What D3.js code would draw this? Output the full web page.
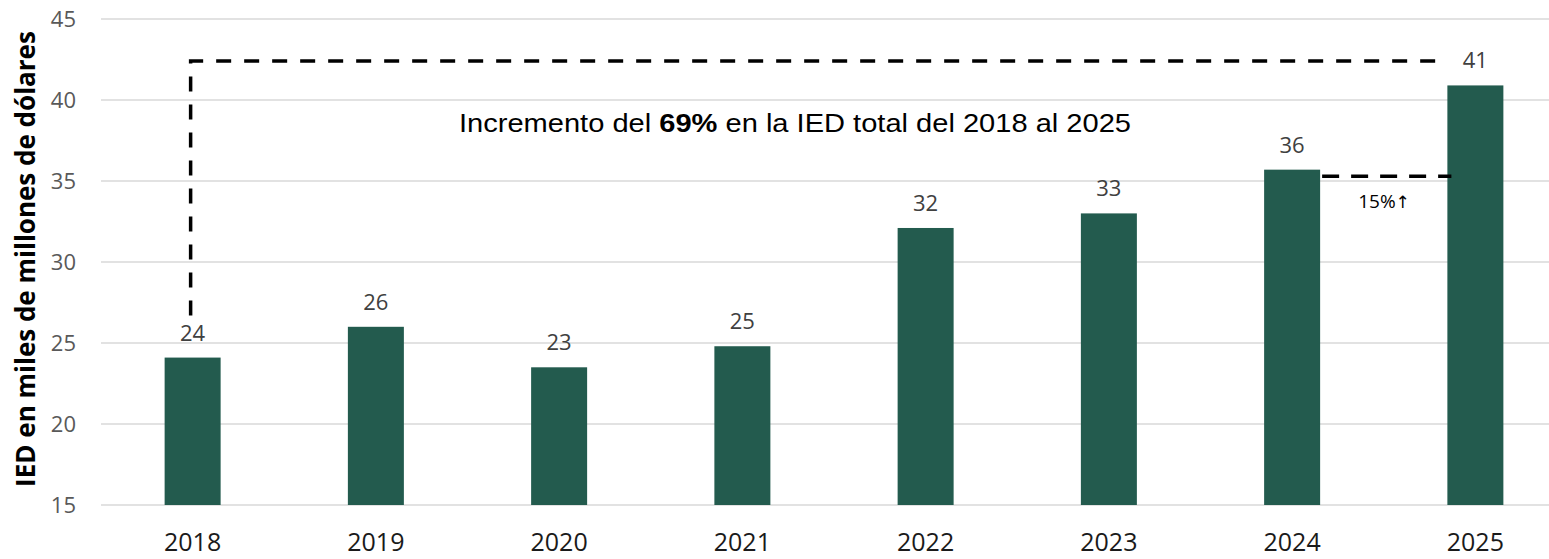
<!DOCTYPE html>
<html>
<head>
<meta charset="utf-8">
<script src="https://cdn.jsdelivr.net/npm/d3@7"></script>
<style>
  body { margin: 0; background: #fff; }
  svg { display: block; }
</style>
</head>
<body>
<div id="chart"></div>
<script>
// Data
const years = ["2018", "2019", "2020", "2021", "2022", "2023", "2024", "2025"];
const values = [24.1, 26.0, 23.5, 24.8, 32.1, 33.0, 35.7, 40.9];
const labels = ["24", "26", "23", "25", "32", "33", "36", "41"];
const yTicks = [15, 20, 25, 30, 35, 40, 45];

const width = 1549, height = 559;

const svg = d3.select("#chart").append("svg")
    .attr("width", width)
    .attr("height", height);

// Scales
const x = d3.scaleBand().domain(years).range([101, 1567]).padding(0);
const y = d3.scaleLinear().domain([15, 45]).range([505, 19]);
const barW = 56;
const cx = d => x(d) + x.bandwidth() / 2;

// Gridlines
svg.append("g")
    .selectAll("line")
    .data(yTicks)
    .join("line")
    .attr("x1", 101)
    .attr("x2", 1567)
    .attr("y1", d => y(d))
    .attr("y2", d => y(d))
    .attr("stroke", "#d9d9d9")
    .attr("stroke-width", 1.5);

// Y axis tick labels
const yAxis = svg.append("g")
    .attr("transform", "translate(76,0)")
    .call(d3.axisLeft(y).tickValues(yTicks).tickSize(0).tickPadding(0));
yAxis.select(".domain").remove();
yAxis.selectAll("text")
    .attr("font-family", "Open Sans")
    .attr("font-size", 22)
    .attr("fill", "#595959");

// X axis labels
const xAxis = svg.append("g")
    .attr("transform", "translate(0,533)")
    .call(d3.axisBottom(x).tickSize(0).tickPadding(0));
xAxis.select(".domain").remove();
xAxis.selectAll("text")
    .attr("dy", "0.71em")
    .attr("font-family", "Open Sans")
    .attr("font-size", 25)
    .attr("fill", "#1a1a1a");

// Bars
svg.append("g")
    .selectAll("rect")
    .data(years)
    .join("rect")
    .attr("x", d => cx(d) - barW / 2)
    .attr("width", barW)
    .attr("y", (d, i) => y(values[i]))
    .attr("height", (d, i) => y(15) - y(values[i]))
    .attr("fill", "#235B4E");

// Data labels
svg.append("g")
    .selectAll("text")
    .data(years)
    .join("text")
    .attr("x", d => cx(d))
    .attr("y", (d, i) => y(values[i]) - 17)
    .attr("text-anchor", "middle")
    .attr("font-family", "Open Sans")
    .attr("font-size", 22)
    .attr("fill", "#404040")
    .text((d, i) => labels[i]);

// Big dashed bracket from 2018 to 2025
const topY = y(42.4);
svg.append("path")
    .attr("d", `M${cx("2018") - 2},${y(values[0]) - 42} L${cx("2018") - 2},${topY} L${cx("2025") - 35},${topY}`)
    .attr("fill", "none")
    .attr("stroke", "#000")
    .attr("stroke-width", 3.5)
    .attr("stroke-dasharray", "15,13");

svg.append("text")
    .attr("x", 459)
    .attr("y", 132)
    .attr("font-family", "Liberation Sans, Arial")
    .attr("font-size", 26.5)
    .attr("fill", "#000")
    .attr("textLength", 672)
    .attr("lengthAdjust", "spacingAndGlyphs")
    .call(t => {
        t.append("tspan").text("Incremento del ");
        t.append("tspan").attr("font-weight", "bold").text("69%");
        t.append("tspan").text(" en la IED total del 2018 al 2025");
    });

// Small dashed line 2024 -> 2025
const smallY = y(35.3);
svg.append("line")
    .attr("x1", cx("2024") + barW / 2 + 2)
    .attr("x2", cx("2025") - barW / 2 + 4)
    .attr("y1", smallY)
    .attr("y2", smallY)
    .attr("stroke", "#000")
    .attr("stroke-width", 3.5)
    .attr("stroke-dasharray", "17,12");

svg.append("text")
    .attr("x", 1384)
    .attr("y", 208)
    .attr("text-anchor", "middle")
    .attr("font-family", "Open Sans")
    .attr("font-size", 19)
    .attr("fill", "#000")
    .call(t => {
        t.append("tspan").text("15%");
        t.append("tspan").attr("font-family", "DejaVu Sans").attr("font-size", 17).text("↑");
    });

// Y axis title
svg.append("text")
    .attr("transform", "translate(35,259) rotate(-90)")
    .attr("text-anchor", "middle")
    .attr("font-family", "Open Sans")
    .attr("font-weight", "bold")
    .attr("font-size", 26)
    .attr("fill", "#000")
    .text("IED en miles de millones de dólares");
</script>
</body>
</html>
